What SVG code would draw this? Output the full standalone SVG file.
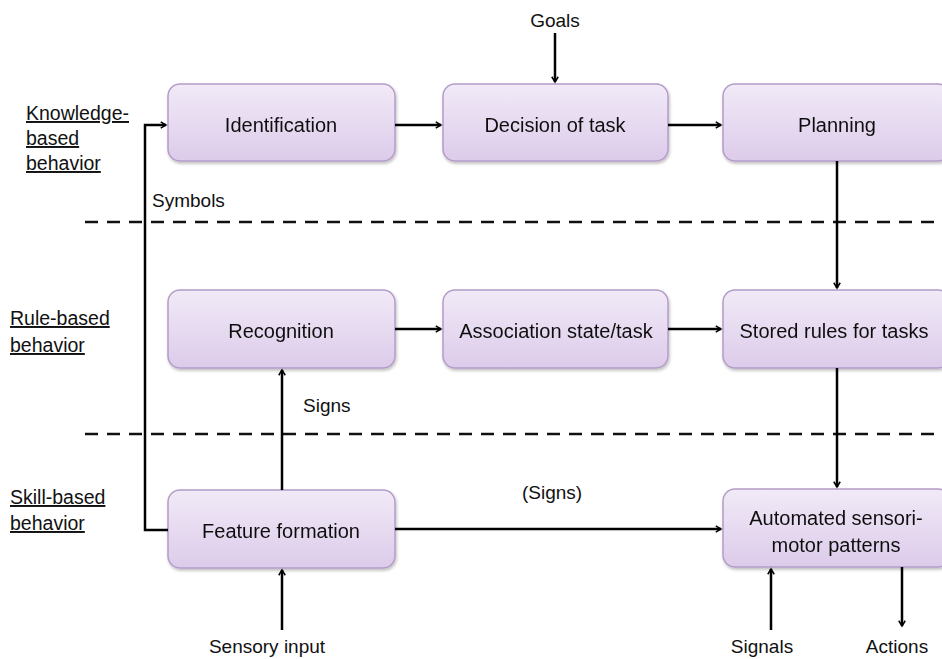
<svg xmlns="http://www.w3.org/2000/svg" width="942" height="659" viewBox="0 0 942 659">
  <style>
    .box { fill: url(#boxFill); stroke: #b49cc9; stroke-width: 1.5; }
    .lbl { font-family: "Liberation Sans", Arial, sans-serif; font-size: 20px; fill: #111; text-anchor: middle; }
    .txt { font-family: "Liberation Sans", Arial, sans-serif; font-size: 19px; fill: #111; }
    .lvl { font-family: "Liberation Sans", Arial, sans-serif; font-size: 19.5px; fill: #111; text-decoration: underline; }
    .wire { fill: none; stroke: #000; stroke-width: 2.5; }
    .dash { fill: none; stroke: #111; stroke-width: 2.5; stroke-dasharray: 13 9; }
  </style>
  <defs>
    <linearGradient id="boxFill" x1="0" y1="0" x2="0" y2="1">
      <stop offset="0" stop-color="#f1eaf7"/>
      <stop offset="1" stop-color="#dccbea"/>
    </linearGradient>
    <filter id="shadow" x="-10%" y="-10%" width="130%" height="140%">
      <feDropShadow dx="1" dy="2" stdDeviation="1.5" flood-color="#000" flood-opacity="0.25"/>
    </filter>
    <marker id="arrow" viewBox="0 0 12 12" refX="10" refY="6" markerWidth="7" markerHeight="7" markerUnits="userSpaceOnUse" orient="auto" overflow="visible">
      <path d="M1,0.5 L10,6 L1,11.5" fill="none" stroke="#000" stroke-width="2.6"/>
    </marker>
  </defs>

  <rect width="942" height="659" fill="#fff"/>

  <!-- level separators -->
  <line class="dash" x1="85" y1="222" x2="942" y2="222"/>
  <line class="dash" x1="85" y1="434" x2="942" y2="434"/>

  <!-- level labels -->
  <g id="level-knowledge">
    <text class="lvl" x="26" y="120">Knowledge-</text>
    <text class="lvl" x="26" y="145">based</text>
    <text class="lvl" x="26" y="170">behavior</text>
  </g>
  <g id="level-rule">
    <text class="lvl" x="10" y="325">Rule-based</text>
    <text class="lvl" x="10" y="352">behavior</text>
  </g>
  <g id="level-skill">
    <text class="lvl" x="10" y="504">Skill-based</text>
    <text class="lvl" x="10" y="530">behavior</text>
  </g>

  <!-- nodes -->
  <g id="identification" filter="url(#shadow)">
    <rect class="box" x="168" y="84" width="227" height="77" rx="12"/>
    <text class="lbl" x="281" y="132">Identification</text>
  </g>
  <g id="decision" filter="url(#shadow)">
    <rect class="box" x="443" y="84" width="225" height="77" rx="12"/>
    <text class="lbl" x="555" y="132">Decision of task</text>
  </g>
  <g id="planning" filter="url(#shadow)">
    <rect class="box" x="723" y="84" width="227" height="77" rx="12"/>
    <text class="lbl" x="837" y="132">Planning</text>
  </g>
  <g id="recognition" filter="url(#shadow)">
    <rect class="box" x="168" y="290" width="227" height="78" rx="12"/>
    <text class="lbl" x="281" y="338">Recognition</text>
  </g>
  <g id="association" filter="url(#shadow)">
    <rect class="box" x="443" y="290" width="225" height="78" rx="12"/>
    <text class="lbl" x="556" y="338">Association state/task</text>
  </g>
  <g id="stored-rules" filter="url(#shadow)">
    <rect class="box" x="723" y="290" width="227" height="78" rx="12"/>
    <text class="lbl" x="834" y="338">Stored rules for tasks</text>
  </g>
  <g id="feature-formation" filter="url(#shadow)">
    <rect class="box" x="168" y="490" width="227" height="78" rx="12"/>
    <text class="lbl" x="281" y="538">Feature formation</text>
  </g>
  <g id="automated" filter="url(#shadow)">
    <rect class="box" x="723" y="489" width="227" height="78" rx="12"/>
    <text class="lbl" x="836" y="525">Automated sensori-</text>
    <text class="lbl" x="836" y="552">motor patterns</text>
  </g>

  <!-- connectors -->
  <g id="connectors">
    <path class="wire" d="M168,530 H145 V125 H166" marker-end="url(#arrow)"/>
    <path class="wire" d="M395,125 H441" marker-end="url(#arrow)"/>
    <path class="wire" d="M668,125 H721" marker-end="url(#arrow)"/>
    <path class="wire" d="M555,33 V82" marker-end="url(#arrow)"/>
    <path class="wire" d="M837,161 V288" marker-end="url(#arrow)"/>
    <path class="wire" d="M395,329 H441" marker-end="url(#arrow)"/>
    <path class="wire" d="M668,329 H721" marker-end="url(#arrow)"/>
    <path class="wire" d="M837,368 V487" marker-end="url(#arrow)"/>
    <path class="wire" d="M282,490 V370" marker-end="url(#arrow)"/>
    <path class="wire" d="M395,529 H721" marker-end="url(#arrow)"/>
    <path class="wire" d="M282,630 V570" marker-end="url(#arrow)"/>
    <path class="wire" d="M771,630 V569" marker-end="url(#arrow)"/>
    <path class="wire" d="M902,567 V626" marker-end="url(#arrow)"/>
  </g>

  <!-- connector labels -->
  <text class="txt" x="555" y="27" text-anchor="middle">Goals</text>
  <text class="txt" x="152" y="207">Symbols</text>
  <text class="txt" x="303" y="412">Signs</text>
  <text class="txt" x="552" y="499" text-anchor="middle">(Signs)</text>
  <text class="txt" x="267" y="653" text-anchor="middle">Sensory input</text>
  <text class="txt" x="762" y="653" text-anchor="middle">Signals</text>
  <text class="txt" x="897" y="653" text-anchor="middle">Actions</text>
</svg>
